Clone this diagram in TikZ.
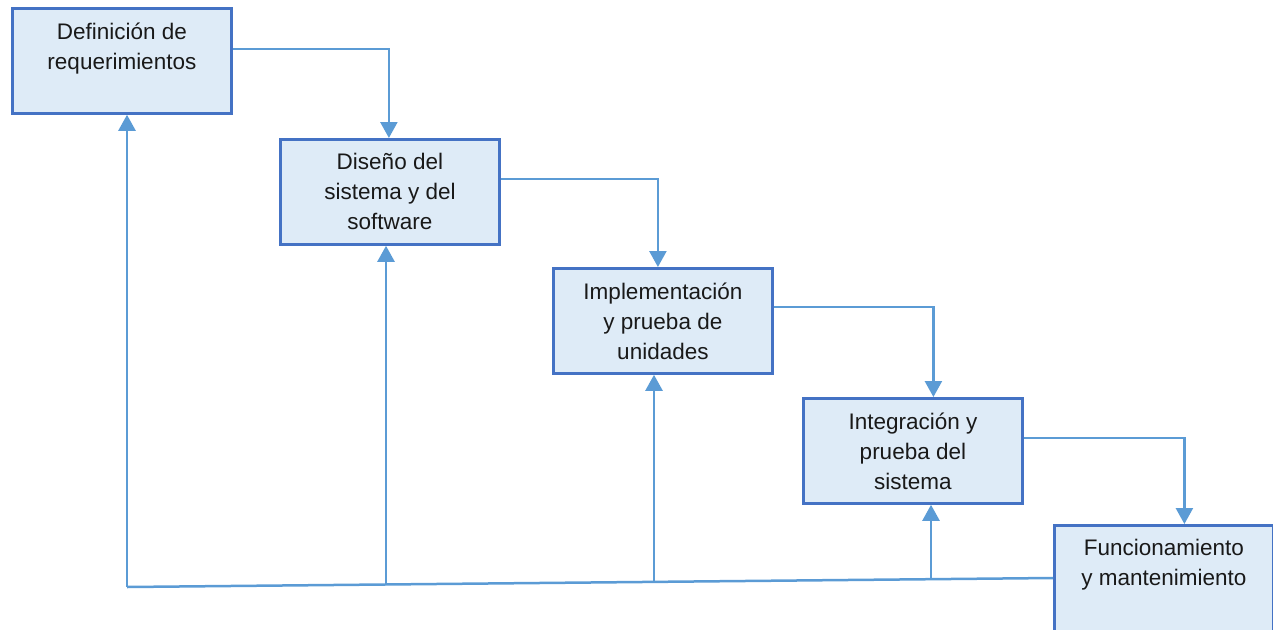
\documentclass[tikz,border=0pt]{standalone}
\usepackage{fontspec}
\setmainfont{Liberation Sans}
\usetikzlibrary{arrows.meta}
\definecolor{boxborder}{HTML}{4472C4}
\definecolor{boxfill}{HTML}{DEEBF7}
\definecolor{linkblue}{HTML}{5B9BD5}
\begin{document}
\begin{tikzpicture}[x=1pt,y=-1pt,
  stage/.style={draw=boxborder,fill=boxfill,line width=2.8pt,minimum width=219pt,minimum height=105pt,
    anchor=north west,inner sep=0pt},
  stagetext/.style={align=center,inner sep=0pt,font=\fontsize{22.5}{30}\selectfont,text=black!90},
  link/.style={draw=linkblue,line width=2.5pt,-{Triangle[width=17pt,length=16pt]}},
  plain/.style={draw=linkblue,line width=2.5pt}]
\useasboundingbox (0,0) rectangle (1273,629);
\clip (0,0) rectangle (1273,629);
\node[stage] (b1) at (11,7) {};
\node[stage] (b2) at (279,138) {};
\node[stage] (b3) at (552,267) {};
\node[stage] (b4) at (802,397) {};
\node[stage,minimum height=120pt] (b5) at (1053,524) {};
\node[stagetext] (t1) at ([yshift=-5pt]b1.center) {Definición de\\requerimientos\\\strut};
\node[stagetext] (t2) at (b2.center) {Diseño del\\sistema y del\\software};
\node[stagetext] (t3) at (b3.center) {Implementación\\y prueba de\\unidades};
\node[stagetext] (t4) at (b4.center) {Integración y\\prueba del\\sistema};
\node[stagetext] (t5) at ([yshift=-58pt]b5.north) {Funcionamiento\\y mantenimiento\\\strut};
% forward flow
\draw[link] ([yshift=12pt]b1.east) -| ([xshift=-1pt]b2.north);
\draw[link] ([yshift=13pt]b2.east) -| ([xshift=-5pt]b3.north);
\draw[link] ([yshift=14pt]b3.east) -| ([xshift=20.5pt]b4.north);
\draw[link] ([yshift=13pt]b4.east) -| ([xshift=20.5pt]b5.north);
% feedback
\coordinate (f5) at (1053,578);
\coordinate (c1) at (127,587);
\coordinate (c2) at (386,584.5);
\coordinate (c3) at (654,582);
\coordinate (c4) at (931,579.2);
\draw[plain] (f5) -- (c1);
\draw[link] (c1) -- (c1 |- b1.south);
\draw[link] (c2) -- (c2 |- b2.south);
\draw[link] (c3) -- (c3 |- b3.south);
\draw[link] (c4) -- (c4 |- b4.south);
\end{tikzpicture}
\end{document}
